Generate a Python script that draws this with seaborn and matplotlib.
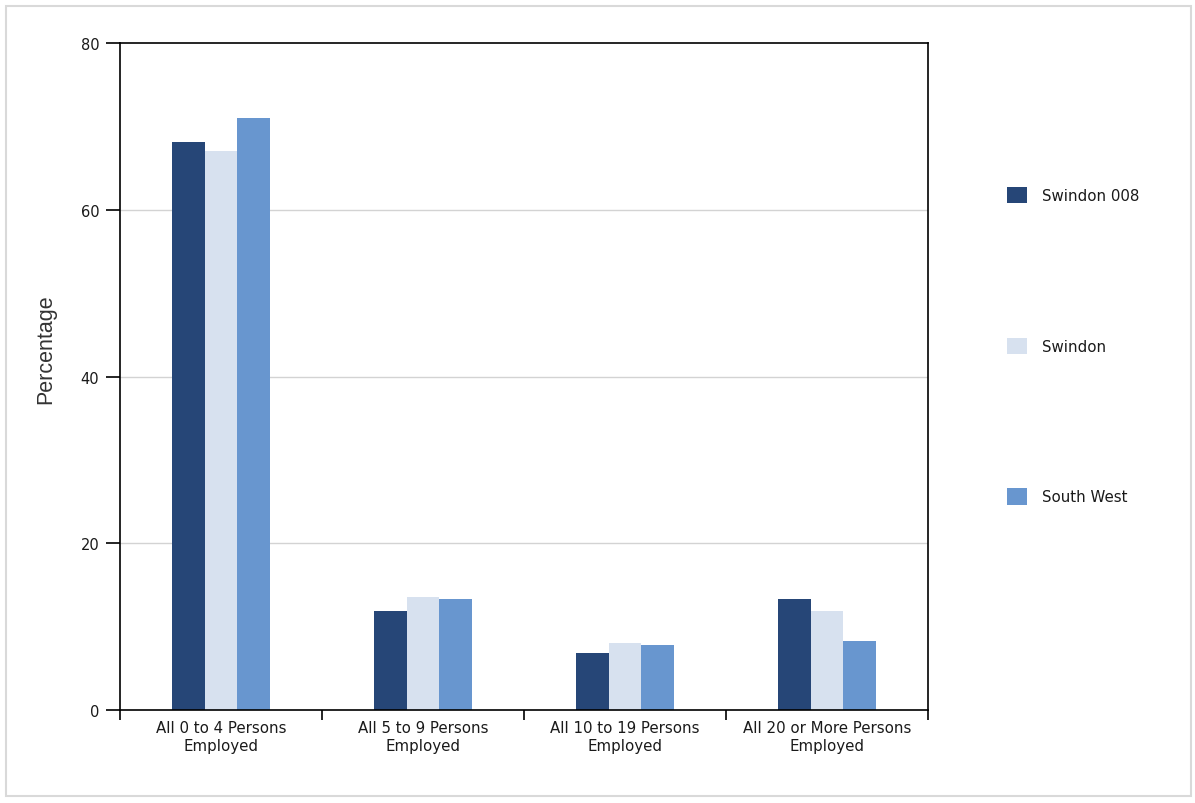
import matplotlib
matplotlib.use("Agg")
import matplotlib.pyplot as plt
import matplotlib.patches as mpatches
import seaborn as sns
import pandas as pd

# Business size bands and the share of businesses in each
categories = ["All 0 to 4 Persons\nEmployed", "All 5 to 9 Persons\nEmployed",
              "All 10 to 19 Persons\nEmployed", "All 20 or More Persons\nEmployed"]
series_names = ["Swindon 008", "Swindon", "South West"]
swindon_008 = [68.1, 11.9, 6.8, 13.3]
swindon = [67.1, 13.5, 8.0, 11.9]
south_west = [71.0, 13.3, 7.8, 8.3]
y_ticks = [0, 20, 40, 60, 80]

colors = ["#264677", "#d7e1ef", "#6896cf"]

df = pd.DataFrame({
    "category": categories * 3,
    "series": [s for s in series_names for _ in categories],
    "value": swindon_008 + swindon + south_west,
})

sns.set_style("white")
plt.rcParams["font.family"] = ["DejaVu Sans"]

fig = plt.figure(figsize=(11.95, 8.04), dpi=100)
# light frame around the whole figure
fig.patches.append(mpatches.Rectangle((6 / 1195, 1 - 797 / 804), 1185 / 1195, 790 / 804,
                                      transform=fig.transFigure, fill=False,
                                      edgecolor="#d9d9d9", linewidth=1.5))

ax = fig.add_axes([120 / 1195, (804 - 711) / 804, 808 / 1195, 667 / 804])
sns.barplot(data=df, x="category", y="value", hue="series", hue_order=series_names,
            palette=colors, width=0.49, saturation=1, ax=ax, legend=False,
            linewidth=0, edgecolor="none")

ax.set_xlim(-0.5, 3.5)
ax.set_ylim(0, 80)
ax.set_yticks(y_ticks)
ax.set_yticklabels([str(t) for t in y_ticks], fontsize=10.5, color="#1a1a1a")
for t in y_ticks[1:-1]:
    ax.axhline(t, color="#d3d3d3", linewidth=1, zorder=0)

# category labels centred, tick marks on the band boundaries
ax.set_xticks([-0.5, 0.5, 1.5, 2.5, 3.5])
ax.set_xticklabels([])
ax.set_xticks(range(len(categories)), minor=True)
ax.set_xticklabels(categories, minor=True, fontsize=10.8, linespacing=1.3,
                   color="#1a1a1a")
ax.tick_params(axis="x", which="minor", bottom=True, length=0, pad=7)
ax.tick_params(axis="x", which="major", bottom=True, length=7, width=1.2,
               color="black", direction="out")
ax.tick_params(axis="y", left=True, length=10, width=1.2, color="black",
               direction="out", pad=5)
ax.set_xlabel("")
ax.set_ylabel("")
fig.text(46 / 1195, 1 - 349 / 804, "Percentage", rotation=90, ha="center", va="center",
         fontsize=15.5, family="Liberation Sans", color="#333333")

for sp in ax.spines.values():
    sp.set_visible(True)
    sp.set_color("black")
    sp.set_linewidth(1.2)

handles = [mpatches.Patch(facecolor=c, edgecolor="none") for c in colors]
fig.legend(handles, series_names, loc="upper left",
           bbox_to_anchor=(1007 / 1195, 1 - 188 / 804), frameon=False,
           fontsize=10.8, handlelength=1.3, handleheight=1.3, handletextpad=1.05,
           labelspacing=8.95, borderpad=0, borderaxespad=0, labelcolor="#1a1a1a")

fig.savefig("out.png", dpi=100, facecolor="white")
